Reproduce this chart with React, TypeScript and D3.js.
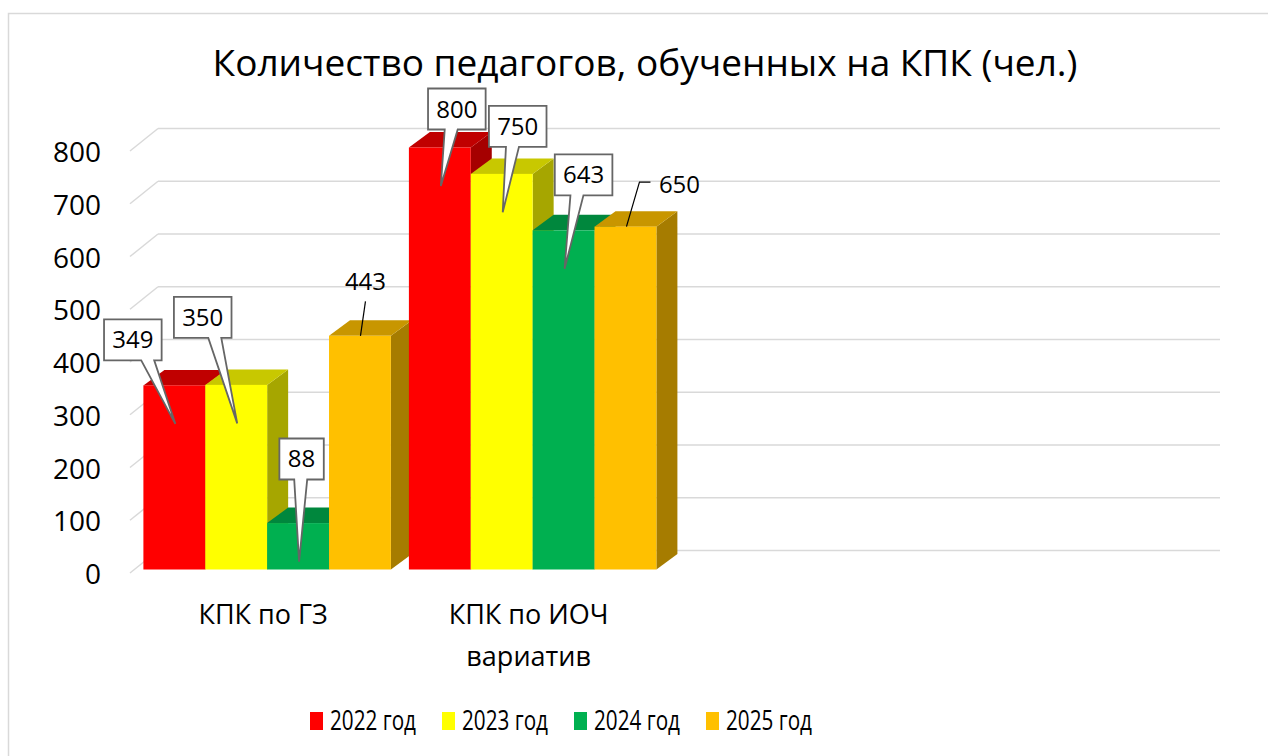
import React, { useEffect } from "react";
import * as d3 from "d3";

const W = 1268;
const H = 756;
const FONT = "'Open Sans', 'Noto Sans', sans-serif";

const categories = ["КПК по ГЗ", "КПК по ИОЧ\nвариатив", "", ""];
const seriesNames = ["2022 год", "2023 год", "2024 год", "2025 год"];
const values2022 = [349, 800];
const values2023 = [350, 750];
const values2024 = [88, 643];
const values2025 = [443, 650];
const yTicks = [0, 100, 200, 300, 400, 500, 600, 700, 800];

const seriesValues = [values2022, values2023, values2024, values2025];
const colors = [
  { front: "#FF0000", top: "#C00000", side: "#A50000" },
  { front: "#FFFF00", top: "#C8C800", side: "#A6A600" },
  { front: "#00B050", top: "#00873D", side: "#007434" },
  { front: "#FFC000", top: "#C89600", side: "#A67C00" },
];

// where the data labels were dragged to, relative to the top centre of each bar
const labelPlace = [
  [{ dx: -41.5, dy: -25, box: true }, { dx: 17, dy: -18, box: true }],
  [{ dx: -33.5, dy: -47, box: true }, { dx: 16, dy: -27, box: true }],
  [{ dx: 3.5, dy: -43.6, box: true }, { dx: 20, dy: -35, box: true }],
  [{ dx: 5.5, dy: -54.5, box: false }, { dx: 54, dy: -42, box: false, elbow: true }],
];

// oblique 3d projection
const depth = [28, -22.5];
const barShift = [4.4, -3.5];
const barDepth = [21, -15.5];
const floorLeft = 130;
const floorRight = 1192;

const y = d3.scaleLinear().domain([0, 800]).range([573, 151]);
const x0 = d3
  .scaleBand<number>()
  .domain(categories.map((_, i) => i))
  .range([floorLeft + barShift[0], floorRight + barShift[0]]);
const x1 = d3
  .scaleBand<string>()
  .domain(seriesNames)
  .range([9, x0.bandwidth() - 9]);

const pts = (p: number[][]) => p.map((q) => q.join(",")).join(" ");

function Callout({ cx, top, place, value }: any) {
  const txt = String(value);
  if (place.box) {
    const bw = 13.2 * txt.length + 18;
    const bh = 41;
    const bcx = cx + place.dx;
    const bb = top + place.dy;
    const bl = bcx - bw / 2;
    const br = bcx + bw / 2;
    const bt = bb - bh;
    const tipX = cx + 1;
    const tipY = top + 38.5;
    const baseC = bcx + 0.35 * (tipX - bcx);
    const b1 = Math.max(bl + 2, baseC - 6.5);
    const b2 = Math.min(br - 2, baseC + 6.5);
    const d = `M${bl},${bt}H${br}V${bb}H${b2}L${tipX},${tipY}L${b1},${bb}H${bl}Z`;
    return (
      <g>
        <path d={d} fill="#fff" stroke="#666" strokeWidth={1.8} strokeLinejoin="miter" />
        <text x={bcx} y={bb - bh / 2 + 8.5} textAnchor="middle" fontSize={24} fontFamily={FONT} fill="#000">
          {txt}
        </text>
      </g>
    );
  }
  const tx = cx + place.dx;
  const ty = top + place.dy;
  const leader = place.elbow
    ? `M${cx + 1},${top}L${tx - 40},${ty - 2.5}H${tx - 29}`
    : `M${cx + 0.5},${top}L${tx},${ty + 20}`;
  return (
    <g>
      <path d={leader} fill="none" stroke="#000" strokeWidth={1.2} />
      <text x={tx} y={ty + 8.5} textAnchor="middle" fontSize={24} fontFamily={FONT} fill="#000">
        {txt}
      </text>
    </g>
  );
}

export default function App() {
  useEffect(() => {
    document.body.style.margin = "0";
    document.body.style.overflow = "hidden";
  }, []);

  const zero = y(0) + barShift[1];
  const bars: any[] = [];
  const labels: any[] = [];
  categories.forEach((_, ci) => {
    seriesNames.forEach((s, si) => {
      const v = seriesValues[si][ci];
      if (v === undefined) return;
      const x = (x0(ci) as number) + (x1(s) as number);
      const w = x1.bandwidth();
      const yt = y(v) + barShift[1];
      const c = colors[si];
      const [ddx, ddy] = barDepth;
      bars.push(
        <g key={`${ci}-${si}`}>
          <polygon
            points={pts([[x + w, yt], [x + w + ddx, yt + ddy], [x + w + ddx, zero + ddy], [x + w, zero]])}
            fill={c.side}
          />
          <polygon
            points={pts([[x, yt], [x + ddx, yt + ddy], [x + w + ddx, yt + ddy], [x + w, yt]])}
            fill={c.top}
          />
          <rect x={x} y={yt} width={w} height={zero - yt} fill={c.front} />
        </g>
      );
      labels.push(
        <Callout key={`l${ci}-${si}`} cx={x + w / 2} top={yt} value={v} place={labelPlace[si][ci]} />
      );
    });
  });

  return (
    <svg width={W} height={H} style={{ position: "absolute", left: 0, top: 0, display: "block" }}>
      <rect x={0} y={0} width={W} height={H} fill="#fff" />
      <rect x={8.5} y={13.5} width={1300} height={800} fill="#fff" stroke="#d9d9d9" strokeWidth={1.5} />
      <text x={645} y={76} textAnchor="middle" fontSize={37} fontFamily={FONT} fill="#000">
        Количество педагогов, обученных на КПК (чел.)
      </text>

      {/* walls: gridlines */}
      {yTicks.map((t) => (
        <g key={t}>
          <line
            x1={floorLeft}
            y1={y(t)}
            x2={floorLeft + depth[0]}
            y2={y(t) + depth[1]}
            stroke="#d9d9d9"
            strokeWidth={1.5}
          />
          <line
            x1={floorLeft + depth[0]}
            y1={y(t) + depth[1]}
            x2={floorRight + depth[0]}
            y2={y(t) + depth[1]}
            stroke="#d9d9d9"
            strokeWidth={1.5}
          />
          <text x={101} y={y(t) + 11} textAnchor="end" fontSize={28} fontFamily={FONT} fill="#000">
            {t}
          </text>
        </g>
      ))}

      {bars}
      {labels}

      {categories.map((c, i) =>
        c.split("\n").map((line, li) =>
          line ? (
            <text
              key={`${i}-${li}`}
              x={(x0(i) as number) + x0.bandwidth() / 2 - 4}
              y={624 + li * 42}
              textAnchor="middle"
              fontSize={27}
              fontFamily={FONT}
              fill="#000"
            >
              {line}
            </text>
          ) : null
        )
      )}

      {seriesNames.map((s, i) => (
        <g key={s} transform={`translate(${310 + i * 132},0)`}>
          <rect x={0} y={712} width={13} height={18} fill={colors[i].front} />
          <text
            x={20}
            y={729.5}
            fontSize={27}
            fontFamily={FONT}
            fill="#000"
            textLength={86}
            lengthAdjust="spacingAndGlyphs"
          >
            {s}
          </text>
        </g>
      ))}
    </svg>
  );
}
